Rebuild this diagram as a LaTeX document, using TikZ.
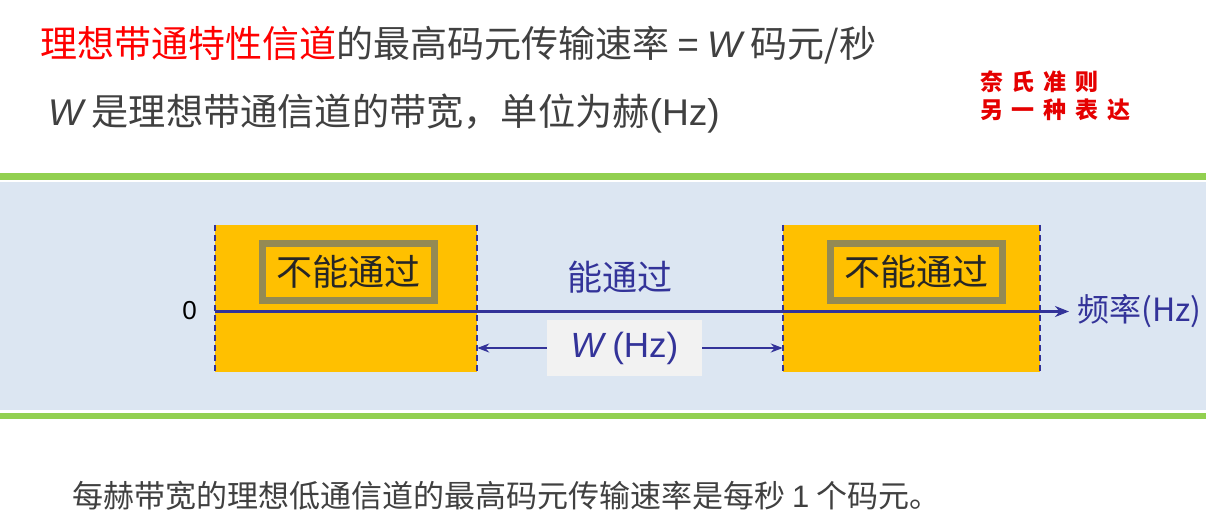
\documentclass[tikz,border=0pt]{standalone}
\usepackage{fontspec}
\setmainfont{Noto Sans CJK SC}
\newfontfamily\lat{Liberation Sans}
\usetikzlibrary{arrows.meta}
\definecolor{grn}{HTML}{92D050}
\definecolor{bgblue}{HTML}{DCE6F2}
\definecolor{orng}{HTML}{FFC000}
\definecolor{olive}{HTML}{948A54}
\definecolor{dblue}{HTML}{333399}
\definecolor{lgray}{HTML}{F2F2F2}
\definecolor{tgray}{HTML}{404040}
\definecolor{rred}{HTML}{FF0000}
\newcommand{\fs}[1]{\fontsize{#1}{#1}\selectfont}
\tikzset{
  stopband/.style={fill=orng, draw=none, minimum width=262, minimum height=147, inner sep=0},
  innerlbl/.style={fill=orng, draw=olive, line width=7, minimum width=172, minimum height=56.5, inner sep=0, font=\fs{36}, text=black!85},
  edge/.style={dblue, line width=2, dash pattern=on 6pt off 4pt},
  axisline/.style={dblue, line width=3, -{Stealth[length=14pt,width=11pt]}},
  warrow/.style={dblue, line width=2, -{Stealth[length=12pt,width=9pt]}},
  greenbar/.style={fill=grn, draw=none},
  redlbl/.style={anchor=west, inner sep=0, font=\fs{23}\bfseries\addfontfeature{LetterSpace=38}, text=rred!90!black},
}
\begin{document}
\begin{tikzpicture}[x=1pt,y=-1pt]
\useasboundingbox (0,0) rectangle (1206,523);
\fill[white] (0,0) rectangle (1206,523);
% bands
\fill[greenbar] (0,173) rectangle (1206,179.5);
\fill[bgblue] (0,181.5) rectangle (1206,409.5);
\fill[greenbar] (0,412.5) rectangle (1206,418.5);
% header texts
\node[anchor=west, inner sep=0, font=\fs{37}, text=tgray] (t1) at (40,45)
  {\textcolor{rred}{理想带通特性信道}的最高码元传输速率 {\lat=} {\lat\itshape W} 码元/秒};
\node[anchor=west, inner sep=0, font=\fs{37.2}, text=tgray] (t2) at (48,114)
  {{\lat\itshape W} 是理想带通信道的带宽，单位为赫{\lat(Hz)}};
\node[redlbl] (r1) at (980,82) {奈氏准则};
\node[redlbl] (r2) at (980,110) {另一种表达};
% stop bands
\node[stopband] (lb) at (346,298.5) {};
\node[stopband, minimum width=257] (rb) at (911.5,298.5) {};
\node[innerlbl] (li) at (348.5,272) {不能通过};
\node[innerlbl] (ri) at (916.5,272) {不能通过};
% dashed edges
\draw[edge] (lb.north west) -- (lb.south west);
\draw[edge] (lb.north east) -- (lb.south east);
\draw[edge] (rb.north west) -- (rb.south west);
\draw[edge] (rb.north east) -- (rb.south east);
% axis
\coordinate (o) at (215,311.5);
\coordinate (axend) at (1069,311.5);
\draw[axisline] (o) -- (axend);
\node[anchor=east, inner sep=0, font=\lat\fs{26}, text=black] (zero) at (197,311) {0};
\node[anchor=west, inner sep=0, font=\fs{32}, text=dblue] (freq) at (1077,311) {频率(Hz)};
\node[inner sep=0, font=\fs{35}, text=dblue] (pass) at (620,277) {能通过};
% W label
\node[fill=lgray, minimum width=155, minimum height=56, inner sep=0, font=\lat\fs{35}, text=dblue] (wl) at (624.5,348) {\textit{W}\,(Hz)};
\draw[warrow] (wl.west) -- (lb.east |- wl.west);
\draw[warrow] (wl.east) -- (rb.west |- wl.east);
% bottom text
\node[anchor=west, inner sep=0, font=\fs{31}, text=tgray] (bt) at (72,496) {每赫带宽的理想低通信道的最高码元传输速率是每秒 {\lat 1} 个码元。};
\end{tikzpicture}
\end{document}
